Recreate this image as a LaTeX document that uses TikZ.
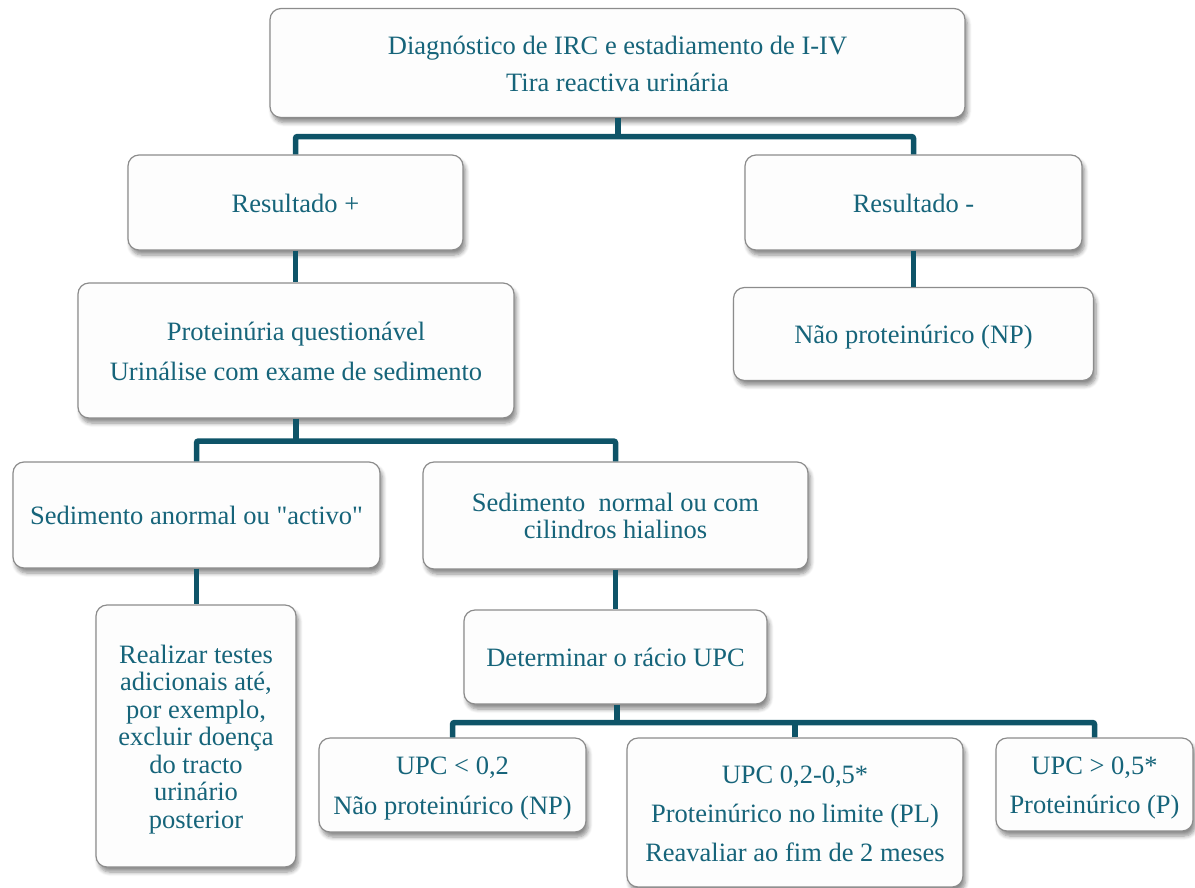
\documentclass[tikz,border=0pt]{standalone}
\usepackage{fontspec}
\setmainfont{Liberation Serif}[Ligatures=TeXOff]
\usetikzlibrary{shadows,shadows.blur}
\definecolor{txt}{RGB}{22,100,122}
\definecolor{conncol}{RGB}{14,84,104}
\definecolor{bordercol}{RGB}{140,140,140}
\definecolor{boxfill}{RGB}{253,253,253}
\newcommand\tstrut{\rule{0pt}{25pt}}
\newcommand\bstrut{\rule[-6pt]{0pt}{6pt}}
\tikzset{
  box/.style={draw=bordercol, line width=1.2pt, fill=boxfill, rounded corners=11pt,
    text=txt, align=center, inner sep=0pt,
    blur shadow={shadow xshift=2.5pt, shadow yshift=-5pt, shadow blur steps=6, shadow opacity=45, shadow blur radius=4pt},
    font=\fontsize{26.5}{28}\selectfont},
  ls/.style={font=\fontsize{26.5}{#1}\selectfont},
  conn/.style={draw=conncol, line width=5.5pt, line join=miter, line cap=butt, rounded corners=2pt},
}
\begin{document}
\begin{tikzpicture}[x=1pt,y=-1pt]
\useasboundingbox (0,0) rectangle (1195,887);
\node[box, ls=37, minimum width=695pt, minimum height=109pt] (top) at (617.5,63)
  {\tstrut Diagnóstico de IRC e estadiamento de I-IV\\Tira reactiva urinária\bstrut};
\node[box, minimum width=335pt, minimum height=95pt] (rp) at (295.5,202.5) {\tstrut Resultado +\bstrut};
\node[box, minimum width=337pt, minimum height=95pt] (rm) at (913.5,202.5) {\tstrut Resultado -\bstrut};
\node[box, ls=40, minimum width=436pt, minimum height=135pt] (prot) at (296,350.5)
  {\tstrut Proteinúria questionável\\Urinálise com exame de sedimento\bstrut};
\node[box, minimum width=360pt, minimum height=93pt] (np) at (913.5,334) {\tstrut Não proteinúrico (NP)\bstrut};
\node[box, minimum width=367pt, minimum height=106pt] (sa) at (196.5,515) {\tstrut Sedimento anormal ou "activo"\bstrut};
\node[box, ls=27, minimum width=385pt, minimum height=107pt] (sn) at (615.5,515.5)
  {\tstrut Sedimento \ normal ou com\\cilindros hialinos\bstrut};
\node[box, ls=27.5, minimum width=200pt, minimum height=262pt] (real) at (196,736)
  {\tstrut Realizar testes\\adicionais até,\\por exemplo,\\excluir doença\\do tracto\\urinário\\posterior\bstrut};
\node[box, minimum width=303pt, minimum height=94pt] (det) at (615.5,657) {\tstrut Determinar o rácio UPC\bstrut};
\node[box, ls=40, minimum width=267pt, minimum height=94pt] (u1) at (452.5,785)
  {\tstrut UPC < 0,2\\Não proteinúrico (NP)\bstrut};
\node[box, ls=39, minimum width=336pt, minimum height=149pt] (u2) at (795,812.5)
  {\tstrut UPC 0,2-0,5*\\Proteinúrico no limite (PL)\\Reavaliar ao fim de 2 meses\bstrut};
\node[box, ls=39, minimum width=197pt, minimum height=93pt] (u3) at (1094.5,784.5)
  {\tstrut UPC > 0,5*\\Proteinúrico (P)\bstrut};
% connectors
\coordinate (b1) at (618,136.5);
\coordinate (b2) at (296,441);
\coordinate (b3) at (617,722.5);
\draw[conn] (top.south -| b1) -- (b1);
\draw[conn] (rp.north) |- (b1) -| (rm.north);
\draw[conn] (rp.south) -- (prot.north -| rp.south);
\draw[conn] (rm.south) -- (np.north -| rm.south);
\draw[conn] (prot.south -| b2) -- (b2);
\draw[conn] (sa.north) |- (b2) -| (sn.north);
\draw[conn] (sa.south) -- (real.north -| sa.south);
\draw[conn] (sn.south) -- (det.north -| sn.south);
\draw[conn] (det.south -| b3) -- (b3);
\draw[conn] (u1.north) |- (b3) -| (u3.north);
\draw[conn] (u2.north) -- (u2.north |- b3);
\end{tikzpicture}
\end{document}
